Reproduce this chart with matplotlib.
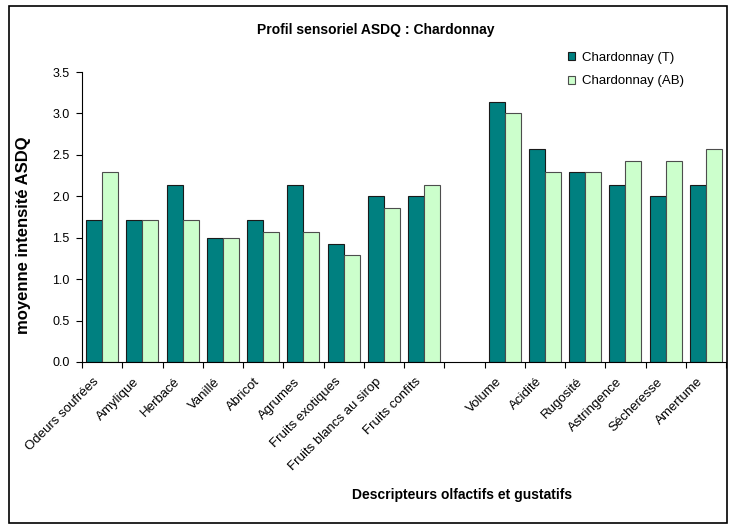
import numpy as np
from matplotlib import pyplot as plt
from matplotlib.patches import Rectangle
from matplotlib.transforms import ScaledTranslation

plt.rcParams['font.family'] = ['Liberation Sans', 'DejaVu Sans']

categories = ['Odeurs soufrées', 'Amylique', 'Herbacé', 'Vanillé', 'Abricot',
              'Agrumes', 'Fruits exotiques', 'Fruits blancs au sirop',
              'Fruits confits', '', 'Volume', 'Acidité', 'Rugosité',
              'Astringence', 'Sécheresse', 'Amertume']
chard_t = [1.71, 1.71, 2.14, 1.50, 1.71, 2.14, 1.43, 2.00, 2.00, np.nan,
           3.14, 2.57, 2.29, 2.14, 2.00, 2.14]
chard_ab = [2.29, 1.71, 1.71, 1.50, 1.57, 1.57, 1.29, 1.86, 2.14, np.nan,
            3.00, 2.29, 2.29, 2.43, 2.43, 2.57]

W, H = 729, 525
fig = plt.figure(figsize=(W / 100, H / 100), dpi=100)
# chart border (Excel chart area)
fig.patches.append(Rectangle((9 / W, 2 / H), 718 / W, 517 / H, transform=fig.transFigure,
                             fill=False, edgecolor='black', linewidth=1.2))
ax = fig.add_axes([82 / W, 1 - 362 / H, 644 / W, 290 / H])

x = np.arange(len(categories))
w = 0.4
ax.bar(x - w/2, chard_t, w, color='#008080', edgecolor='#1a1a1a', linewidth=0.8,
       label='Chardonnay (T)')
ax.bar(x + w/2, chard_ab, w, color='#CCFFCC', edgecolor='#4d4d4d', linewidth=0.8,
       label='Chardonnay (AB)')

ax.set_xlim(-0.5, len(categories) - 0.5)
ax.set_ylim(0, 3.5)
yt = np.arange(0, 3.51, 0.5)
ax.set_yticks(yt)
ax.set_yticklabels(['%.1f' % v for v in yt], fontsize=9)
ax.set_xticks(x)
ax.set_xticklabels(categories, rotation=45, ha='right', rotation_mode='anchor', fontsize=9.5)
ax.tick_params(axis='x', length=0, pad=7)
off = ScaledTranslation(-9 / 100, -4 / 100, fig.dpi_scale_trans)
for lab in ax.get_xticklabels():
    lab.set_transform(lab.get_transform() + off)
ax.set_xticks(np.arange(-0.5, len(categories)), minor=True)
ax.tick_params(axis='x', which='minor', length=4, direction='out', width=0.8)
ax.tick_params(axis='y', length=4, direction='out', width=0.8, pad=5)

for s in ['top', 'right']:
    ax.spines[s].set_visible(False)
ax.spines['left'].set_linewidth(0.8)
ax.spines['bottom'].set_linewidth(0.8)

fig.text(24 / W, 1 - 235 / H, 'moyenne intensité ASDQ', rotation=90, ha='center',
         va='center', fontsize=12, fontweight='bold')
fig.text(462 / W, 1 - 495 / H, 'Descripteurs olfactifs et gustatifs', ha='center',
         va='center', fontsize=10, fontweight='bold')
fig.text(376 / W, 1 - 30 / H, 'Profil sensoriel ASDQ : Chardonnay', ha='center',
         va='center', fontsize=10, fontweight='bold')

handles, labels = ax.get_legend_handles_labels()
fig.legend(handles, labels, loc='upper left', bbox_to_anchor=(568 / W, 1 - 52 / H),
           frameon=False, fontsize=9.5, borderpad=0, borderaxespad=0,
           handlelength=0.55, handleheight=0.55, handletextpad=0.5, labelspacing=0.85)

fig.savefig('out.png', dpi=100)
